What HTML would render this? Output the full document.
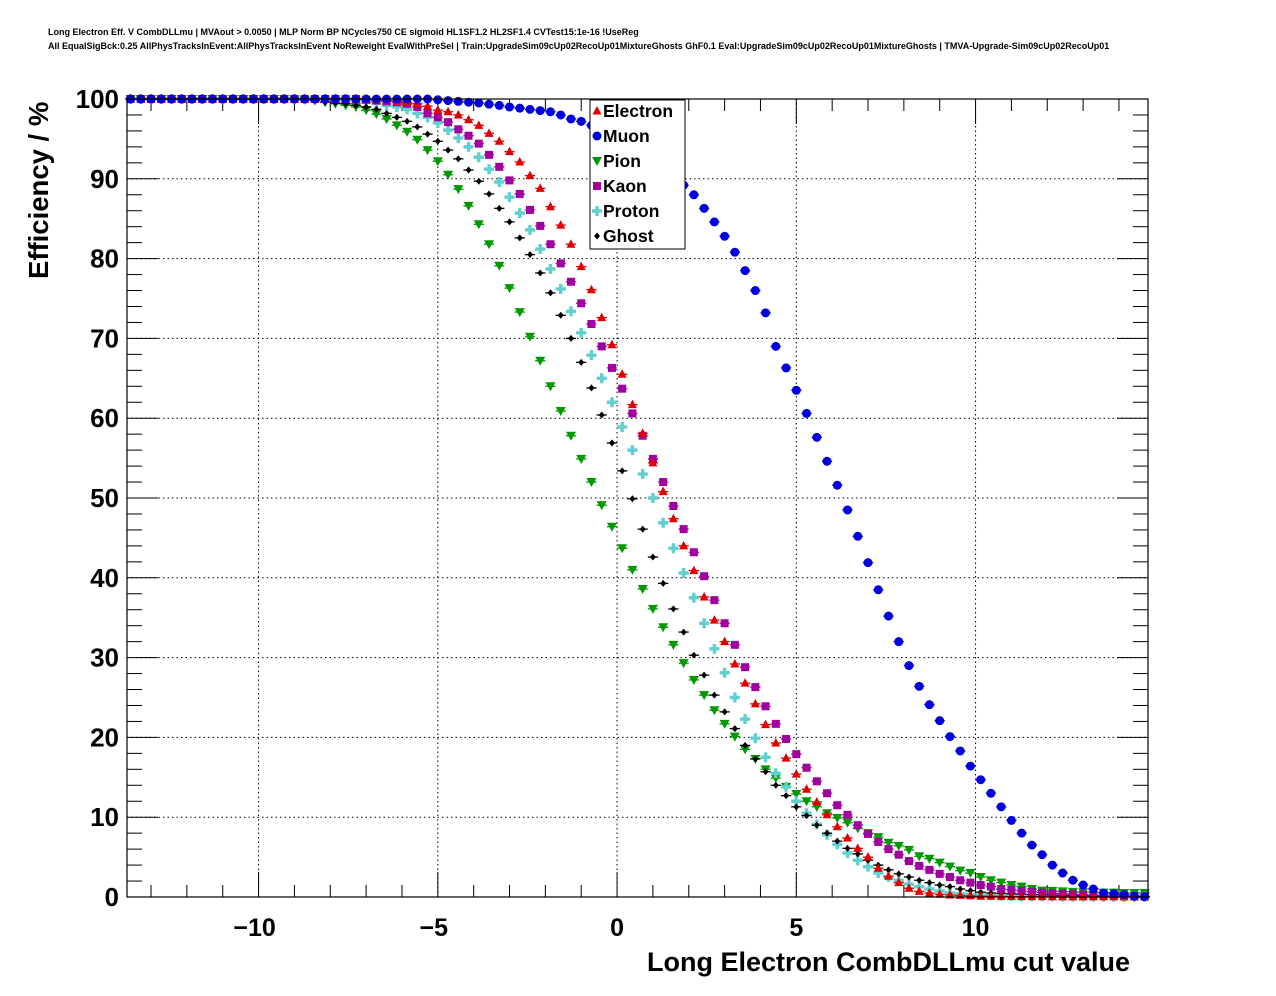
<!DOCTYPE html>
<html><head><meta charset="utf-8">
<style>
html,body{margin:0;padding:0;background:#fff;}
svg{display:block;font-family:"Liberation Sans",Arial,sans-serif;}
</style></head>
<body>
<svg id="chart" width="1276" height="996" viewBox="0 0 1276 996" xmlns="http://www.w3.org/2000/svg">
<rect x="0" y="0" width="1276" height="996" fill="#fff"/>
<text x="48" y="35" font-size="9" font-weight="bold">Long Electron Eff. V CombDLLmu | MVAout &gt; 0.0050 | MLP Norm BP NCycles750 CE sigmoid HL1SF1.2 HL2SF1.4 CVTest15:1e-16 !UseReg</text>
<text x="48" y="49" font-size="9" font-weight="bold">All EqualSigBck:0.25 AllPhysTracksInEvent:AllPhysTracksInEvent NoReweight EvalWithPreSel | Train:UpgradeSim09cUp02RecoUp01MixtureGhosts GhF0.1 Eval:UpgradeSim09cUp02RecoUp01MixtureGhosts | TMVA-Upgrade-Sim09cUp02RecoUp01</text>
<g id="grid"></g>
<g id="axes"></g>
<g id="series"></g>
<rect x="127" y="99" width="1021" height="798" fill="none" stroke="#000" stroke-width="1.2"/>
<text x="1130" y="971" font-size="27" font-weight="bold" text-anchor="end">Long Electron CombDLLmu cut value</text>
<text transform="translate(48,279) rotate(-90)" font-size="27.5" font-weight="bold">Efficiency / %</text>
<g id="legend"></g>
</svg>
<script>
const NS="http://www.w3.org/2000/svg";
// cut values: bin centres, step 2/7
const cutStep=2/7;
const firstBin=-48, nBins=100;
const xTicks=[-10,-5,0,5,10];
const xTickLabels=["\u221210","\u22125","0","5","10"];
const yTicks=[0,10,20,30,40,50,60,70,80,90,100];
const yTickLabels=["0","10","20","30","40","50","60","70","80","90","100"];
const seriesNames=["Electron","Muon","Pion","Kaon","Proton","Ghost"];
const electron=[100,100,100,100,100,100,100,100,100,100,100,100,100,100,100,100,100,100,100,100,100,100,100,100,
99.9,99.8,99.7,99.6,99.4,
99.1,98.6,98.4,98,97.4,96.7,95.7,94.7,93.4,92.1,90.4,88.8,86.5,84.2,81.8,79,76.1,72.6,69.2,65.5,
61.7,58.1,54.4,50.8,47.4,44,40.9,37.6,34.7,32,29.2,
26.8,24.2,21.6,19.3,17.4,15.4,13.5,11.9,10.3,8.8,7.4,6.1,5.0,
3.6,2.6,1.8,1.1,0.7,0.5,0.35,0.25,0.2,0.15,0.1,
0.1,0.08,0.06,0.05,0.05,0.04,0.03,0.03,0.02,0.02,0.02,0.01,0.01,0.01,0,0];
const muon=[100,100,100,100,100,100,100,100,100,100,100,100,100,100,100,100,100,100,100,100,100,100,100,100,100,100,100,100,100,100,
99.9,99.8,99.7,99.6,99.5,99.35,99.2,99.0,98.85,98.7,98.55,98.4,98,97.5,97.2,96.7,96.1,95.5,95,94.3,93.5,92.5,91.5,90.4,
89.2,88,86.3,84.6,82.8,80.8,78.5,76,73.2,69,66.3,
63.5,60.6,57.6,54.6,51.6,48.5,45.2,41.9,38.5,35.2,32,
29,26.4,24.1,22.1,20.1,18.3,16.4,14.7,13,11.3,9.6,8,6.5,5.3,4,3,2.1,1.5,1,0.5,0.4,0.3,0.1,0.05];
const pion=[100,100,100,100,100,100,100,100,100,100,100,100,100,100,100,100,
99.95,
99.9,99.8,99.6,99.4,99.2,99,98.6,98.1,97.5,96.7,95.9,94.9,93.6,92.2,90.5,88.7,86.6,84.3,81.8,79.1,76.3,73.3,70.2,67.2,64,
60.9,57.8,54.9,52,49.1,46.4,43.7,41,38.6,36.1,33.8,31.6,29.3,
27.2,25.3,23.4,21.7,20.1,18.5,17.3,16,14.9,13.8,12.9,12,11.3,10.5,9.9,9.3,8.6,8,7.5,6.8,6.4,5.9,5.1,4.8,4.3,3.8,3.3,3,2.5,2.1,1.8,1.5,1.3,1,0.8,
0.75,0.7,0.65,0.6,0.6,0.55,0.55,0.5,0.5,0.5];
const kaon=[100,100,100,100,100,100,100,100,100,100,100,100,100,100,100,100,100,100,100,100,100,100,100,
99.9,99.8,99.7,99.6,99.4,
99,98.2,97.7,97.1,96.2,95.4,94.4,93,91.5,89.8,88.1,86.1,84.1,81.8,79.4,77.1,74.4,71.8,69,66.3,63.7,
60.6,57.8,54.9,52,49,46.1,43.2,40.2,37.2,34.3,31.6,28.8,
26.3,23.9,21.7,19.8,17.9,16.2,14.5,13,11.5,10.3,9,7.9,6.9,6,5.3,4.5,3.9,3.4,2.9,2.5,2.1,1.8,1.5,1.3,1,0.9,
0.75,0.65,0.55,0.45,0.4,0.35,0.3,0.25,0.2,0.15,0.1,0.1,0.05];
const proton=[100,100,100,100,100,100,100,100,100,100,100,100,100,100,100,100,100,100,100,100,100,100,
99.9,99.6,99.5,99.2,99,98.7,
98.2,97.7,97,96.1,95.1,94,92.7,91.2,89.6,87.7,85.7,83.6,81.2,78.7,76.2,73.4,70.7,67.9,
65,
62,58.9,56,53,50,46.9,43.7,40.6,37.5,34.3,31.1,28.1,
25,22.3,19.9,17.5,15.5,13.8,12,10.5,9.1,7.8,6.6,5.5,4.6,3.8,3,2.5,2.1,1.6,1.3,1,0.75,0.5,
0.4,0.3,0.25,0.2,0.15,0.12,0.1,0.1,0.08,0.08,0.06,0.05,0.05,0.04,0.03,0.03,0.02,0.02,0.01];
const ghost=[100,100,100,100,100,100,100,100,100,100,100,100,100,100,100,100,100,
99.9,99.8,99.6,99.5,99.4,99.2,99,98.7,98.2,97.7,97.2,96.5,95.6,94.7,93.6,92.5,91.1,89.7,88.1,86.3,84.6,82.6,80.5,78.2,75.7,72.9,70,67,63.8,
60.4,56.9,53.4,49.9,46.1,42.6,39.3,36.1,33.2,30.3,27.8,
25.3,23.2,21.1,19,17.3,15.7,14,12.7,11.3,10.2,9,8,7,6.1,5.4,4.6,4,3.4,2.9,2.5,2.1,1.8,1.5,1.3,1,0.8,0.6,0.5,0.45,
0.4,0.35,0.3,0.3,0.25,0.2,0.2,0.15,0.15,0.1,0.1,0.1,0.05,0.05];

const X0=127,X1=1148,Y0=897,Y1=99;
const xMin=-13.67,xMax=14.81,yMin=0,yMax=100;
function xs(v){return X0+(v-xMin)/(xMax-xMin)*(X1-X0);}
function ys(v){return Y0-(v-yMin)/(yMax-yMin)*(Y0-Y1);}
function mk(tag,attrs,parent){const e=document.createElementNS(NS,tag);for(const k in attrs)e.setAttribute(k,attrs[k]);parent.appendChild(e);return e;}

const grid=document.getElementById('grid'),axes=document.getElementById('axes'),ser=document.getElementById('series'),leg=document.getElementById('legend');
xTicks.forEach(t=>{const l=mk('line',{x1:xs(t),x2:xs(t),y1:Y1,y2:Y0,stroke:'#000','stroke-width':1,'stroke-dasharray':'1.5,3'},grid);

});
yTicks.forEach(t=>{if(t===0||t===100)return;const l=mk('line',{x1:X0,x2:X1,y1:ys(t),y2:ys(t),stroke:'#000','stroke-width':1,'stroke-dasharray':'1.5,3'},grid);

});
for(let v=0;v<=100;v+=2){const major=v%10===0;const L=major?31:15;
mk('line',{x1:X0,x2:X0+L,y1:ys(v),y2:ys(v),stroke:'#000','stroke-width':1},axes);
mk('line',{x1:X1,x2:X1-L,y1:ys(v),y2:ys(v),stroke:'#000','stroke-width':1},axes);}
yTicks.forEach((t,i)=>{const e=mk('text',{x:119,y:ys(t)+9,'font-size':26,'font-weight':'bold','text-anchor':'end'},axes);e.textContent=yTickLabels[i];

});
for(let v=-13;v<=14;v++){const major=v%5===0;const L=major?25:12;
mk('line',{x1:xs(v),x2:xs(v),y1:Y0,y2:Y0-L,stroke:'#000','stroke-width':1},axes);
mk('line',{x1:xs(v),x2:xs(v),y1:Y1,y2:Y1+L,stroke:'#000','stroke-width':1},axes);}
xTicks.forEach((t,i)=>{const e=mk('text',{x:xs(t)-(t<0?4:0),y:936,'font-size':25,'font-weight':'bold','text-anchor':'middle'},axes);e.textContent=xTickLabels[i];

});

const colors={Electron:'#e00000',Muon:'#0000dd',Pion:'#009900',Kaon:'#a000a0',Proton:'#5fcfcf',Ghost:'#000000'};
function marker(name,cx,cy,g){const c=colors[name];
 if(name==='Electron')return mk('path',{d:`M${cx},${cy-5}L${cx+4.5},${cy+3.5}L${cx-4.5},${cy+3.5}Z`,fill:c},g);
 if(name==='Muon')return mk('circle',{cx:cx,cy:cy,r:4.5,fill:c},g);
 if(name==='Pion')return mk('path',{d:`M${cx-5},${cy-4}L${cx+5},${cy-4}L${cx},${cy+5}Z`,fill:c},g);
 if(name==='Kaon')return mk('rect',{x:cx-4,y:cy-4,width:8,height:8,fill:c},g);
 if(name==='Proton')return mk('path',{d:`M${cx-5},${cy-1.7}h3.3v-3.3h3.4v3.3h3.3v3.4h-3.3v3.3h-3.4v-3.3h-3.3Z`,fill:c},g);
 return mk('path',{d:`M${cx},${cy-3.5}L${cx+3},${cy}L${cx},${cy+3.5}L${cx-3},${cy}Z`,fill:c},g);}
const dataBy={Electron:electron,Muon:muon,Pion:pion,Kaon:kaon,Proton:proton,Ghost:ghost};
["Pion","Proton","Ghost","Kaon","Electron","Muon"].forEach(name=>{
 const g=mk('g',{},ser);
 
 
 dataBy[name].forEach((v,i)=>{const cut=(firstBin+i+0.5)*cutStep;const cx=xs(cut),cy=ys(v);
  if(cx<X0||cx>X1)return;
  const hw=(xs(cutStep)-xs(0))/2;
  mk('line',{x1:cx-hw,x2:cx+hw,y1:cy,y2:cy,stroke:colors[name],'stroke-width':1.3},g);
  const m=marker(name,cx,cy,g);
  
  
 });
});
const lb=mk('rect',{x:590,y:100,width:95,height:149,fill:'#fff',stroke:'#000','stroke-width':1},leg);


seriesNames.forEach((n,i)=>{const y=111+i*25;
 const g=mk('g',{},leg);
 
 
 marker(n,597,y,g);
 const t=mk('text',{x:603,y:y+6,'font-size':17.5,'font-weight':'bold'},g);t.textContent=n;});
</script>
</body></html>
